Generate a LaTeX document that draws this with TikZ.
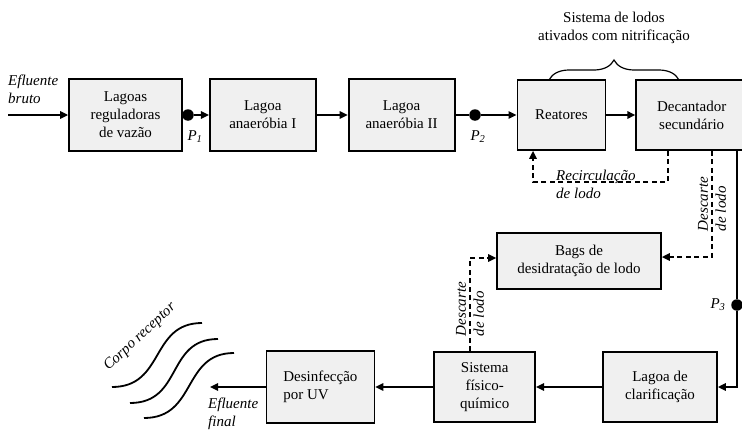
\documentclass[tikz,border=0pt]{standalone}
\usepackage{fontspec}
\setmainfont{Liberation Serif}
\usetikzlibrary{positioning,arrows.meta,decorations.pathreplacing}
\definecolor{boxgray}{RGB}{240,240,240}

\begin{document}
\begin{tikzpicture}[
  x=1pt, y=-1pt,
  font=\fontsize{15}{18}\selectfont,
  stage/.style={rectangle, draw, line width=1.8pt, fill=boxgray, align=center, minimum height=72pt, inner sep=2pt},
  flow/.style={line width=1.6pt, -{Triangle[length=8pt,width=7.5pt]}},
  plain/.style={line width=1.6pt},
  sludge/.style={line width=1.5pt, dash pattern=on 5pt off 3.5pt, -{Triangle[length=8pt,width=7.5pt]}},
  lbl/.style={font=\fontsize{15}{18}\selectfont\itshape, inner sep=0pt},
  dot/.style={circle, fill=black, minimum size=11.5pt, inner sep=0pt}
]
  \useasboundingbox (0,0) rectangle (742,431);

  % linha superior
  \node[stage, minimum width=113pt] (reg) at (125.5,115) {Lagoas\\reguladoras\\de vazão};
  \node[stage, minimum width=106pt, right=26pt of reg] (anaeI) {Lagoa\\anaeróbia I};
  \node[stage, minimum width=106pt, right=31pt of anaeI] (anaeII) {Lagoa\\anaeróbia II};
  \node[stage, minimum width=88pt, minimum height=70pt, right=61pt of anaeII] (reat) {Reatores};
  \node[stage, minimum width=111pt, minimum height=70pt, right=29pt of reat] (dec) {Decantador\\secundário};

  % linha inferior
  \node[stage, minimum width=164pt, minimum height=56pt] (bags) at (579,261) {Bags de\\desidratação de lodo};
  \node[stage, minimum width=114pt, minimum height=70pt] (clar) at (660,387) {Lagoa de\\clarificação};
  \node[stage, minimum width=101pt, minimum height=70pt, left=66pt of clar] (fisq) {Sistema\\físico-\\químico};
  \node[stage, minimum width=108pt, align=left, left=58pt of fisq] (uv) {Desinfecção\\por UV};

  \node[dot] (p1) at (188,115) {};
  \node[dot] (p2) at (475,115) {};
  \node[dot] (p3) at (737,305) {};
  \node[lbl] (p1l) at (195,137) {P\textsubscript{1}};
  \node[lbl] (p2l) at (478,137) {P\textsubscript{2}};
  \node[lbl] (p3l) at (718,305) {P\textsubscript{3}};

  \coordinate (in) at (8,115);
  \coordinate (out) at (210,387);
  \node[lbl, align=left, anchor=west] (bruto) at (8,89) {Efluente\\bruto};
  \node[lbl, align=left, anchor=west] (final) at (208,414) {Efluente\\final};

  \draw[flow] (in) -- (reg);
  \draw[plain] (reg) -- (p1);
  \draw[flow] (p1) -- (anaeI);
  \draw[flow] (anaeI) -- (anaeII);
  \draw[plain] (anaeII) -- (p2);
  \draw[flow] (p2) -- (reat);
  \draw[flow] (reat) -- (dec);
  \draw[plain] (p3 |- dec.south) -- (p3);
  \draw[flow] (p3) |- (clar);
  \draw[flow] (clar) -- (fisq);
  \draw[flow] (fisq) -- (uv);
  \draw[flow] (uv) -- (out);

  % lodo
  \coordinate (rc1) at (668,182);
  \coordinate (rc2) at (533,182);
  \draw[sludge] (dec.south -| rc1) -- (rc1) -- (rc2) -- (reat.south -| rc2);
  \node[lbl, align=left, anchor=west] (recl) at (556,184) {Recirculação\\de lodo};

  \coordinate (ds1) at (712,257);
  \draw[sludge] (dec.south -| ds1) -- (ds1) -- (bags.east |- ds1);
  \node[lbl, align=left, rotate=90] (ds1l) at (712,204) {Descarte\\de lodo};

  \coordinate (ds2) at (470,258);
  \draw[sludge] (fisq.north -| ds2) -- (ds2) -- (bags.west |- ds2);
  \node[lbl, align=left, rotate=90] (ds2l) at (470,309) {Descarte\\de lodo};

  % chave
  \coordinate (br1) at (549,80);
  \coordinate (br2) at (679,80);
  \draw[line width=1.2pt, decorate, decoration={brace, amplitude=20pt}] (br1) -- (br2);
  \node[align=center] (lodos) at (614,28) {Sistema de lodos\\ativados com nitrificação};

  % corpo receptor
  \draw[line width=1.8pt] (112,387) .. controls (165,387) and (150,323) .. (202,323);
  \draw[line width=1.8pt] (130,403) .. controls (183,403) and (166,339) .. (218,339);
  \draw[line width=1.8pt] (144,418) .. controls (197,418) and (182,353) .. (234,353);
  \node[lbl, rotate=43] (corpo) at (140,337) {Corpo receptor};
\end{tikzpicture}
\end{document}
